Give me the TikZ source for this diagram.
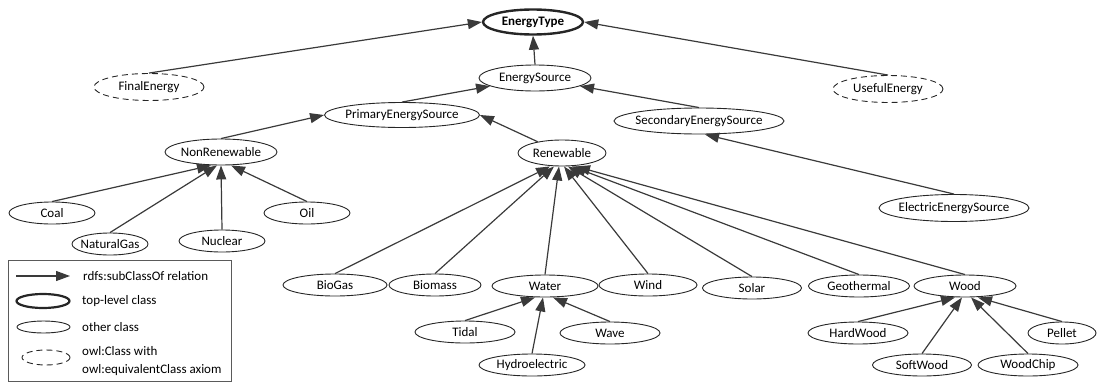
\documentclass[tikz,border=0pt]{standalone}
\usepackage{fontspec}
\setmainfont{Carlito}
\usetikzlibrary{shapes.geometric,arrows.meta}
\newcommand\nodetext[1]{\makebox[0pt]{#1}}
\definecolor{edgecol}{HTML}{3A3A3A}
\definecolor{rimcol}{HTML}{262626}
\definecolor{boxcol}{HTML}{5A5A5A}
\tikzset{
  cls/.style 2 args={ellipse, draw=rimcol, line width=0.9pt, inner sep=0pt,
    minimum width=#1pt, minimum height=#2pt, text=black,
    font=\fontsize{13}{15}\selectfont},
  topcls/.style 2 args={cls={#1}{#2}, line width=2.4pt,
    font=\fontsize{13}{15}\selectfont\bfseries},
  eqcls/.style 2 args={cls={#1}{#2}, dash pattern=on 6pt off 4pt},
  sub/.style={draw=edgecol, line width=1.2pt, -{Triangle[length=14pt,width=10pt]}},
  legtext/.style={anchor=west, inner sep=0pt, text=black, align=left,
    font=\fontsize{13}{18}\selectfont},
}
\begin{document}
\begin{tikzpicture}[x=1pt,y=-1pt]
\useasboundingbox (0,0) rectangle (1097,388);

% upper part of the hierarchy
\node[topcls={100}{25}] (ET)  at (533,22)  {\nodetext{EnergyType}};
\node[eqcls={110}{27}]  (FE)  at (149,87)  {\nodetext{FinalEnergy}};
\node[eqcls={110}{27}]  (UE)  at (888,89)  {\nodetext{UsefulEnergy}};
\node[cls={112}{26}]    (ES)  at (535,78)  {\nodetext{EnergySource}};
\node[cls={155}{25}]    (PES) at (402,115) {\nodetext{PrimaryEnergySource}};
\node[cls={170}{26}]    (SES) at (699,121) {\nodetext{SecondaryEnergySource}};
\node[cls={112}{26}]    (NR)  at (221,152) {\nodetext{NonRenewable}};
\node[cls={88}{26}]     (RE)  at (562,153) {\nodetext{Renewable}};
\node[cls={150}{27}]    (EES) at (954,208) {\nodetext{ElectricEnergySource}};

% non-renewable sources
\node[cls={86}{22}] (Coal) at (52,213)  {\nodetext{Coal}};
\node[cls={86}{22}] (Oil)  at (307,213) {\nodetext{Oil}};
\node[cls={76}{22}] (NG)   at (110,244) {\nodetext{NaturalGas}};
\node[cls={86}{22}] (Nuc)  at (222,241) {\nodetext{Nuclear}};

% renewable sources
\node[cls={104}{22}] (BioGas)  at (335,285) {\nodetext{BioGas}};
\node[cls={92}{22}]  (Biomass) at (435,285) {\nodetext{Biomass}};
\node[cls={106}{22}] (Water)   at (545,286) {\nodetext{Water}};
\node[cls={98}{22}]  (Wind)    at (648,285) {\nodetext{Wind}};
\node[cls={99}{22}]  (Solar)   at (752,288) {\nodetext{Solar}};
\node[cls={101}{22}] (Geo)     at (859,286) {\nodetext{Geothermal}};
\node[cls={102}{22}] (Wood)    at (965,286) {\nodetext{Wood}};

\node[cls={100}{22}] (Tidal) at (465,332) {\nodetext{Tidal}};
\node[cls={100}{22}] (Wave)  at (610,333) {\nodetext{Wave}};
\node[cls={106}{22}] (Hydro) at (532,365) {\nodetext{Hydroelectric}};

\node[cls={100}{22}] (Hard)   at (858,333)  {\nodetext{HardWood}};
\node[cls={68}{22}]  (Pellet) at (1062,333) {\nodetext{Pellet}};
\node[cls={99}{22}]  (Soft)   at (922,365)  {\nodetext{SoftWood}};
\node[cls={100}{22}] (Chip)   at (1028,365) {\nodetext{WoodChip}};

% subclass relations
\draw[sub] (FE.north) -- (ET.west);
\draw[sub] (UE.north) -- (ET.east);
\draw[sub] (ES.north) -- (ET.south);
\draw[sub] (PES.north) -- (ES);
\draw[sub] (SES.north) -- (ES);
\draw[sub] (NR.north) -- (PES.west);
\draw[sub] (RE) -- (PES.east);
\draw[sub] (EES.north) -- ([xshift=6pt]SES.south);

\draw[sub] (Coal.north) -- ([xshift=-10pt]NR.south);
\draw[sub] (NG.north)   -- ([xshift=-4pt]NR.south);
\draw[sub] (Nuc.north)  -- (NR.south);
\draw[sub] (Oil.north)  -- ([xshift=10pt]NR.south);

\draw[sub] (BioGas.north)  -- ([xshift=-12pt]RE.south);
\draw[sub] (Biomass.north) -- ([xshift=-8pt]RE.south);
\draw[sub] (Water.north)   -- ([xshift=-3pt]RE.south);
\draw[sub] (Wind.north)    -- ([xshift=2pt]RE.south);
\draw[sub] (Solar.north)   -- ([xshift=6pt]RE.south);
\draw[sub] (Geo.north)     -- ([xshift=10pt]RE.south);
\draw[sub] (Wood.north)    -- ([xshift=14pt]RE.south);

\draw[sub] (Tidal.north) -- ([xshift=-10pt]Water.south);
\draw[sub] (Hydro.north) -- ([xshift=-2pt]Water.south);
\draw[sub] (Wave.north)  -- ([xshift=8pt]Water.south);

\draw[sub] (Hard.north)   -- ([xshift=-10pt]Wood.south);
\draw[sub] (Soft.north)   -- ([xshift=-3pt]Wood.south);
\draw[sub] (Chip.north)   -- ([xshift=6pt]Wood.south);
\draw[sub] (Pellet.north) -- ([xshift=13pt]Wood.south);

% legend
\node[draw=boxcol, line width=0.9pt, inner sep=0pt, minimum width=223pt,
      minimum height=121pt, anchor=north west] (legend) at (8,260) {};
\coordinate (legA) at (16,276);
\coordinate (legB) at (70,276);
\draw[sub] (legA) -- (legB);
\node[topcls={53}{14}, line width=2.2pt] (legTop) at (43,301) {};
\node[cls={53}{12}] (legCls) at (43.5,327) {};
\node[eqcls={48}{15}] (legEq) at (46,357.5) {};
\node[legtext] (legT1) at (83,276) {rdfs:subClassOf relation};
\node[legtext] (legT2) at (82,301) {top-level class};
\node[legtext] (legT3) at (82,327) {other class};
\node[legtext] (legT4) at (82,361) {owl:Class with\\owl:equivalentClass axiom};
\end{tikzpicture}
\end{document}
